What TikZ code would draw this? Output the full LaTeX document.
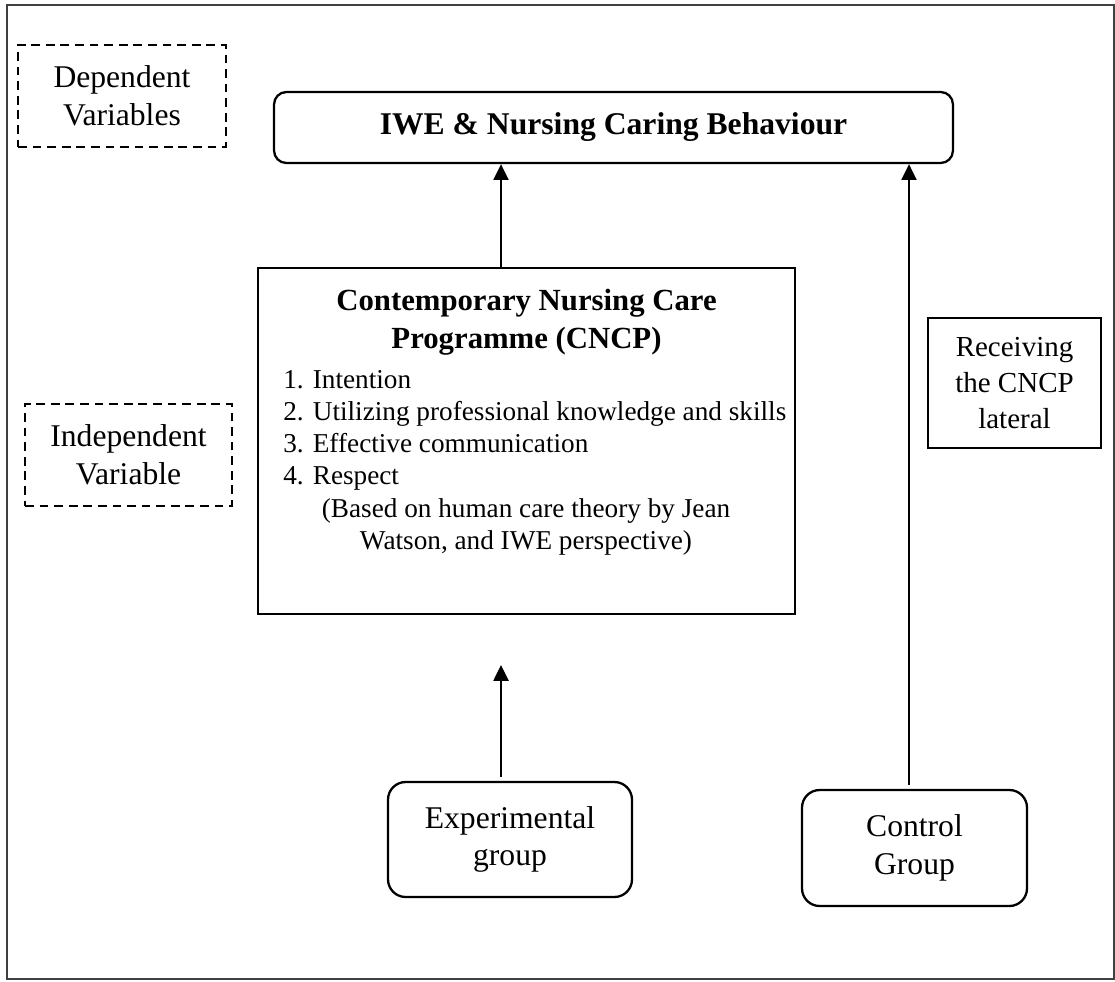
\documentclass[tikz,border=0pt]{standalone}
\usepackage{fontspec}
\setmainfont{Liberation Serif}
\usepackage{tikz}
\usetikzlibrary{arrows.meta,positioning}
\usetikzlibrary{calc}

\begin{document}
\begin{tikzpicture}[x=0.02cm,y=-0.02cm,
  varbox/.style={draw,dash pattern=on 5pt off 3.3pt,line width=1.4pt,inner sep=0pt,align=center,font=\fontsize{18}{21.5}\selectfont},
  grpbox/.style={draw,rounded corners=10pt,line width=1.3pt,inner sep=0pt,align=center,font=\fontsize{18}{21.5}\selectfont},
  arr/.style={line width=1.3pt,-{Triangle[width=8.5pt,length=9pt]}}]

\useasboundingbox (0,0) rectangle (1115,981);
\draw[black!75,line width=0.9pt] (7,5) rectangle (1114,979);

\node[varbox,minimum width=4.16cm,minimum height=2.04cm] (dep) at (122,96) {Dependent\\Variables};
\node[varbox,minimum width=4.14cm,minimum height=2.04cm] (indep) at (128.5,455) {Independent\\Variable};

\node[grpbox,rounded corners=7pt,minimum width=13.58cm,minimum height=1.42cm,font=\fontsize{18}{21.5}\selectfont\bfseries] (iwe) at (613.5,127.5) {IWE \& Nursing Caring Behaviour};

\node[draw,line width=1.3pt,inner sep=0pt,minimum width=10.74cm,minimum height=6.92cm] (cncp) at (526.5,441) {};
\node[anchor=north,inner sep=0pt,align=center,font=\fontsize{17.5}{21.5}\selectfont\bfseries] (title) at (526.5,289) {Contemporary Nursing Care\\Programme (CNCP)};
\node[anchor=north west,inner sep=0pt,align=left,font=\fontsize{15.5}{18.2}\selectfont] (items) at (283,370) {1. Intention\\2. Utilizing professional knowledge and skills\\3. Effective communication\\4. Respect};
\node[anchor=north,inner sep=0pt,align=center,font=\fontsize{15.5}{18.2}\selectfont] (note) at (526,498) {(Based on human care theory by Jean\\Watson, and IWE perspective)};

\node[draw,line width=1.3pt,inner sep=0pt,align=center,minimum width=3.46cm,minimum height=2.6cm,font=\fontsize{16.5}{20.5}\selectfont] (recv) at (1014.5,383) {Receiving\\the CNCP\\lateral};

\node[grpbox,minimum width=4.88cm,minimum height=2.3cm] (exp) at (510,839.5) {Experimental\\group};
\node[grpbox,minimum width=4.5cm,minimum height=2.32cm] (ctrl) at (914.5,848) {Control\\Group};

\coordinate (expin) at (501,665);

\draw[arr] (cncp.north -| expin) -- (iwe.south -| expin);
\draw[arr,shorten <=2pt] (exp.north -| expin) -- (expin);
\draw[arr,shorten <=2pt] ($(ctrl.north)+(-5.5,0)$) -- ($(ctrl.north |- iwe.south)+(-5.5,0)$);
\end{tikzpicture}
\end{document}
